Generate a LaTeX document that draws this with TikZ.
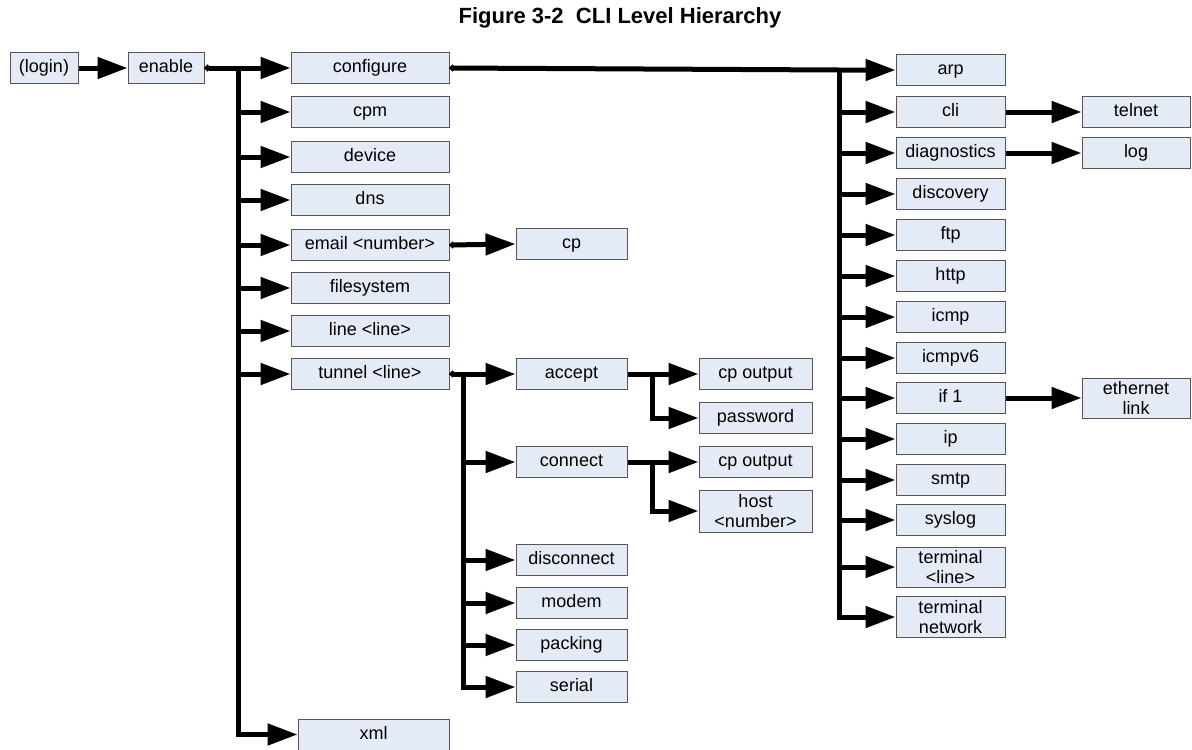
\documentclass[tikz,border=0pt]{standalone}
\usepackage{fontspec}
\setmainfont{Liberation Sans}
\usetikzlibrary{arrows.meta}
\definecolor{boxfill}{RGB}{228,235,247}
\definecolor{boxline}{RGB}{85,85,85}
\begin{document}
\begin{tikzpicture}[x=1pt,y=-1pt,
  box/.style={draw=boxline, fill=boxfill, line width=1pt, inner sep=0pt,
    text height=13pt, text depth=4pt,
    minimum height=31pt, font=\fontsize{18}{20.5}\selectfont},
  tall/.style={text height=, text depth=, align=center, minimum height=40pt},
  lcol/.style={box, minimum width=158pt},
  scol/.style={box, minimum width=111pt},
  ocol/.style={box, minimum width=113pt},
  rcol/.style={box, minimum width=109pt},
  fcol/.style={box, minimum width=108pt},
  conn/.style={line width=5pt, line join=miter, -{Triangle[length=30pt,width=21pt]}},
  dotstart/.style={{Circle[length=6pt]}-{Triangle[length=30pt,width=21pt]}}
]
\useasboundingbox (0,0) rectangle (1192,750);

\node[font=\bfseries\fontsize{22}{26}\selectfont] (title) at (620,18) {Figure 3-2\ \ CLI Level Hierarchy};

% first row
\node[box, minimum width=68pt] (login) at (44,68) {(login)};
\node[box, minimum width=76pt] (enable) at (166,68) {enable};

% left column
\node[lcol] (configure) at (370,68) {configure};
\node[lcol] (cpm) at (370,112) {cpm};
\node[lcol] (device) at (370,157) {device};
\node[lcol] (dns) at (370,200) {dns};
\node[lcol] (email) at (370,245) {email <number>};
\node[lcol] (filesystem) at (370,288) {filesystem};
\node[lcol] (line) at (370,331) {line <line>};
\node[lcol] (tunnel) at (370,374) {tunnel <line>};
\node[box, minimum width=151pt] (xml) at (373.5,734.5) {xml};

% email sub
\node[scol] (cp) at (571.5,244) {cp};

% tunnel subs
\node[scol] (accept) at (571.5,374) {accept};
\node[scol] (connect) at (571.5,462) {connect};
\node[scol] (disconnect) at (571.5,560) {disconnect};
\node[scol] (modem) at (571.5,603) {modem};
\node[scol] (packing) at (571.5,645) {packing};
\node[scol] (serial) at (571.5,687) {serial};

\node[ocol] (cpo1) at (755.5,374) {cp output};
\node[ocol] (pwd) at (755.5,418) {password};
\node[ocol] (cpo2) at (755.5,462) {cp output};
\node[ocol, tall, minimum height=42pt] (host) at (755.5,511) {host\\<number>};

% right column
\node[rcol] (arp) at (950.5,70) {arp};
\node[rcol] (cli) at (950.5,112) {cli};
\node[rcol] (diag) at (950.5,153) {diagnostics};
\node[rcol] (discovery) at (950.5,194) {discovery};
\node[rcol] (ftp) at (950.5,235) {ftp};
\node[rcol] (http) at (950.5,276) {http};
\node[rcol] (icmp) at (950.5,317) {icmp};
\node[rcol] (icmpv6) at (950.5,358) {icmpv6};
\node[rcol] (ifone) at (950.5,398) {if 1};
\node[rcol] (ip) at (950.5,439) {ip};
\node[rcol] (smtp) at (950.5,480) {smtp};
\node[rcol] (syslog) at (950.5,520) {syslog};
\node[rcol, tall] (tline) at (950.5,567) {terminal\\<line>};
\node[rcol, tall, minimum height=41pt] (tnet) at (950.5,617) {terminal\\network};

% far right
\node[fcol] (telnet) at (1136,112) {telnet};
\node[fcol] (log) at (1136,153) {log};
\node[fcol, tall] (eth) at (1136,398) {ethernet\\link};

% junction coordinates
\coordinate (tA) at (238,68);
\coordinate (cj) at (839,70);
\coordinate (tT) at (463,374);
\coordinate (aJ) at (652,374);
\coordinate (cJ) at (652,462);

% connectors
\draw[conn] (login) -- (enable);
\draw[conn, dotstart] (enable.east) -- (configure.west);
\draw[conn] (tA) -- (tA |- xml.west) -- (xml.west);
\foreach \n in {cpm,device,dns,email,filesystem,line,tunnel}
  \draw[conn] (tA |- \n.west) -- (\n.west);

\draw[conn, dotstart] (email.east) -- (cp.west);

\draw[conn, dotstart] (tunnel.east) -- (accept.west);
\draw[conn] (tT) -- (tT |- serial.west) -- (serial.west);
\foreach \n in {connect,disconnect,modem,packing}
  \draw[conn] (tT |- \n.west) -- (\n.west);

\draw[conn] (accept.east) -- (cpo1.west);
\draw[conn] (aJ) -- (aJ |- pwd.west) -- (pwd.west);
\draw[conn] (connect.east) -- (cpo2.west);
\draw[conn] (cJ) -- (cJ |- host.west) -- (host.west);

\draw[conn, dotstart] (configure.east) -- (cj) -- (arp.west);
\draw[conn] (cj) -- (cj |- tnet.west) -- (tnet.west);
\foreach \n in {cli,diag,discovery,ftp,http,icmp,icmpv6,ifone,ip,smtp,syslog,tline}
  \draw[conn] (cj |- \n.west) -- (\n.west);

\draw[conn] (cli) -- (telnet);
\draw[conn] (diag) -- (log);
\draw[conn] (ifone) -- (eth);
\end{tikzpicture}
\end{document}
